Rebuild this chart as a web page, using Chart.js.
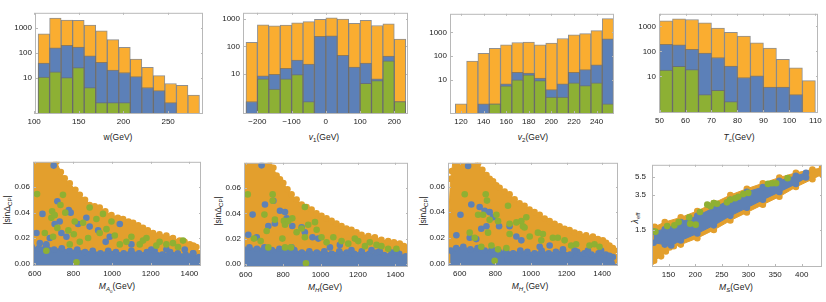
<!DOCTYPE html>
<html>
<head>
<meta charset="utf-8">
<script src="https://cdn.jsdelivr.net/npm/chart.js@4.4.0/dist/chart.umd.min.js"></script>
<style>
body{margin:0;background:#fff;width:826px;height:302px;position:relative;overflow:hidden;font-family:"Liberation Sans",Arial,sans-serif}
canvas{position:absolute}
.t{position:absolute;font-size:8.5px;color:#222;white-space:nowrap;transform:translate(-50%,-50%);line-height:1}
.t.r{transform:translate(-50%,-50%) rotate(-90deg)}
.t sub{font-size:72%;vertical-align:-0.35em;line-height:0}
</style>
</head>
<body>
<div class="t" style="left:118px;top:137px">w(GeV)</div>
<div class="t" style="left:324px;top:137px"><i>v</i><sub>1</sub>(GeV)</div>
<div class="t" style="left:533px;top:137px"><i>v</i><sub>2</sub>(GeV)</div>
<div class="t" style="left:739px;top:137px"><i>T<sub>c</sub></i>(GeV)</div>
<div class="t" style="left:117px;top:287px"><i>M</i><sub><i>A</i><sub>0</sub></sub>(GeV)</div>
<div class="t" style="left:325px;top:287px"><i>M<sub>H</sub></i>(GeV)</div>
<div class="t" style="left:530px;top:287px"><i>M</i><sub><i>H</i><sub>±</sub></sub>(GeV)</div>
<div class="t" style="left:736px;top:287px"><i>M<sub>S</sub></i>(GeV)</div>
<div class="t r" style="left:7px;top:210px">|sinΔ<sub>CP</sub>|</div>
<div class="t r" style="left:218px;top:211px">|sinΔ<sub>CP</sub>|</div>
<div class="t r" style="left:423px;top:211px">|sinΔ<sub>CP</sub>|</div>
<div class="t r" style="left:635px;top:218px"><i>λ</i><sub>eff</sub></div>
<script>
// ---- histograms (bin centres + counts, orange = all, blue / green = subsets)
const wBins = [110.9, 123.8, 136.7, 149.6, 162.5, 175.4, 188.3, 201.2, 214.1, 227.0, 239.9, 252.8, 265.7, 278.6];
const wOrange = [560, 2400, 2000, 1950, 1270, 740, 330, 161, 55, 26, 12, 5.8, 4.9, 2];
const wBlue = [38, 156, 193, 166, 74, 41, 20, 16, 11, 4, 3, 1, null, null];
const wGreen = [10.5, 17, 10, 25, 4, 1, 1, 1, null, null, null, null, null, null];

const v1Bins = [-216.7, -183.3, -150, -116.7, -83.3, -50, -16.7, 16.7, 50, 83.3, 116.7, 150, 183.3, 216.7];
const v1Orange = [143, 610, 560, 600, 720, 800, 970, 1110, 1000, 700, 900, 580, 660, 187];
const v1Blue = [1, 8.5, 9.7, 16, 32, 23, 235, 245, 48, 18, 25, 6.6, 45, 1];
const v1Green = [null, 6.6, 2.8, 6.6, 9.5, 1, null, null, null, null, 4.6, 5.8, 30, 1];

const v2Bins = [120, 130, 140, 150, 160, 170, 180, 190, 200, 210, 220, 230, 240, 250];
const v2Orange = [1, 62, 130, 213, 300, 375, 390, 300, 355, 550, 780, 880, 1170, 3760];
const v2Blue = [null, null, 1, 1, 6.9, 21, 19.5, 12, 3.9, 6.9, 21, 27, 43, 535];
const v2Green = [null, null, null, 1, 5.7, 10, 16.5, 9.4, 1.9, 1.9, 7.5, 5.8, 7.5, 1];

const tcBins = [52.5, 57.5, 62.5, 67.5, 72.5, 77.5, 82.5, 87.5, 92.5, 97.5, 102.5, 107.5];
const tcOrange = [1670, 2000, 1880, 1390, 860, 580, 405, 220, 135, 48, 22, 6.8];
const tcBlue = [190, 185, 120, 85, 57, 26, 9.1, 10.6, 3.8, 3.8, 1.9, null];
const tcGreen = [18, 25.5, 19, 1.9, 2.8, 1, null, null, null, null, null, null];

const countTicks = [10, 100, 1000];
const wTicks = [100, 150, 200, 250];
const v1Ticks = [-200, -100, 0, 100, 200];
const v2Ticks = [120, 140, 160, 180, 200, 220, 240];
const tcTicks = [50, 60, 70, 80, 90, 100, 110];

// ---- scatter panels: [mass, |sin ΔCP|]
const massTicks = [600, 800, 1000, 1200, 1400];
const sinTicks = [0, 0.02, 0.04, 0.06];

const mA0Orange = [[585,0.085],[650,0.085],[700,0.085],[712,0.08],[735,0.072],[755,0.067],[781,0.063],[810,0.058],[833,0.054],[860,0.05],[884,0.046],[910,0.045],[936,0.044],[965,0.041],[997,0.038],[1030,0.036],[1057,0.035],[1085,0.033],[1109,0.032],[1135,0.03],[1160,0.028],[1185,0.026],[1212,0.024],[1245,0.023],[1281,0.022],[1315,0.02],[1350,0.018],[1375,0.017],[1402,0.015],[1420,0.014],[1436,0.013],[1453,0.008],[1458,0.003],[1462,-0.003]];
const mA0Band = [[585,0.013],[620,0.012],[660,0.014],[700,0.011],[740,0.012],[780,0.01],[820,0.011],[860,0.009],[900,0.01],[940,0.008],[980,0.01],[1020,0.009],[1060,0.008],[1100,0.01],[1140,0.008],[1180,0.009],[1220,0.01],[1260,0.007],[1300,0.009],[1340,0.008],[1380,0.007],[1420,0.008],[1450,0.005],[1458,-0.003]];
const mA0Blue = [[698,0.077],[717,0.049],[640,0.039],[776,0.042],[786,0.04],[729,0.033],[703,0.031],[738,0.024],[609,0.024],[764,0.021],[678,0.02],[867,0.036],[884,0.029],[824,0.031],[928,0.026],[967,0.017],[1040,0.031],[1100,0.015],[988,0.021],[1203,0.011],[1281,0.011],[1376,0.011],[1419,0.008],[626,0.016],[660,0.015]];
const mA0Green = [[612,0.0546],[746,0.054],[733,0.046],[690,0.041],[686,0.036],[758,0.04],[703,0.038],[652,0.024],[695,0.021],[717,0.028],[774,0.026],[807,0.033],[802,0.023],[833,0.017],[850,0.032],[884,0.044],[919,0.035],[936,0.024],[971,0.027],[997,0.033],[953,0.039],[1014,0.022],[1040,0.015],[1074,0.017],[1100,0.021],[1143,0.015],[1160,0.018],[1178,0.02],[1229,0.014],[1246,0.017],[1281,0.015],[1315,0.016],[1341,0.013],[1367,0.018],[816,0.001],[781,0.015],[660,0.01],[876,0.02]];

const mHOrange = [[585,0.085],[650,0.085],[700,0.085],[730,0.082],[748,0.076],[765,0.07],[783,0.067],[801,0.064],[823,0.059],[845,0.055],[872,0.051],[899,0.047],[925,0.045],[952,0.043],[978,0.04],[1005,0.038],[1032,0.036],[1059,0.034],[1085,0.032],[1112,0.03],[1138,0.028],[1165,0.027],[1192,0.025],[1219,0.023],[1255,0.022],[1290,0.021],[1325,0.019],[1361,0.018],[1392,0.017],[1423,0.016],[1445,0.014],[1459,0.012],[1466,0.006],[1470,0.001],[1475,-0.004]];
const mHBand = [[585,0.012],[620,0.013],[660,0.012],[700,0.013],[740,0.011],[780,0.012],[820,0.01],[860,0.011],[900,0.009],[940,0.01],[980,0.009],[1020,0.01],[1060,0.008],[1100,0.01],[1140,0.009],[1180,0.008],[1220,0.01],[1260,0.008],[1300,0.009],[1340,0.007],[1380,0.009],[1420,0.008],[1455,0.006],[1466,-0.003]];
const mHBlue = [[685,0.078],[703,0.047],[637,0.039],[748,0.05],[783,0.042],[810,0.041],[819,0.036],[756,0.032],[721,0.03],[659,0.021],[849,0.03],[899,0.029],[845,0.013],[916,0.025],[957,0.021],[988,0.02],[1050,0.013],[1103,0.015],[1165,0.011],[1272,0.011],[1316,0.01],[1405,0.01],[1450,0.005],[614,0.023]];
const mHGreen = [[611,0.055],[744,0.055],[744,0.05],[700,0.039],[756,0.035],[804,0.034],[810,0.031],[828,0.034],[849,0.036],[712,0.026],[644,0.02],[680,0.018],[796,0.02],[810,0.013],[872,0.025],[899,0.028],[916,0.045],[934,0.031],[970,0.033],[979,0.027],[1005,0.021],[1032,0.017],[1068,0.021],[1112,0.018],[1148,0.016],[1183,0.02],[1201,0.018],[1237,0.014],[1263,0.017],[1299,0.015],[1325,0.014],[1361,0.012],[1405,0.012],[842,0.013],[916,0.021],[721,0.013],[922,0.0005]];

const mHcOrange = [[530,-0.004],[540,0.04],[548,0.066],[556,0.072],[565,0.085],[640,0.085],[680,0.085],[703,0.078],[727,0.073],[750,0.069],[768,0.066],[787,0.064],[805,0.061],[824,0.059],[852,0.056],[880,0.054],[908,0.05],[936,0.047],[964,0.045],[992,0.042],[1020,0.04],[1049,0.038],[1077,0.035],[1105,0.033],[1133,0.031],[1161,0.029],[1189,0.027],[1217,0.026],[1245,0.024],[1273,0.023],[1310,0.022],[1348,0.021],[1376,0.019],[1404,0.018],[1422,0.016],[1441,0.014],[1460,0.012],[1469,0.01],[1478,0.005],[1484,-0.004]];
const mHcBand = [[546,-0.003],[550,0.01],[580,0.012],[620,0.013],[660,0.011],[700,0.012],[740,0.01],[780,0.011],[820,0.009],[860,0.01],[900,0.008],[940,0.01],[980,0.009],[1020,0.008],[1060,0.01],[1100,0.008],[1140,0.009],[1180,0.01],[1220,0.007],[1260,0.009],[1300,0.008],[1340,0.007],[1380,0.008],[1420,0.007],[1460,0.005],[1476,-0.003]];
const mHcBlue = [[647,0.076],[665,0.046],[604,0.038],[712,0.044],[740,0.041],[768,0.04],[787,0.036],[750,0.029],[721,0.027],[656,0.02],[821,0.029],[880,0.029],[918,0.021],[946,0.018],[693,0.019],[1049,0.013],[1105,0.014],[1180,0.011],[1245,0.01],[1320,0.01],[1394,0.01],[1441,0.006],[581,0.022],[871,0.003]];
const mHcGreen = [[628,0.054],[746,0.054],[753,0.049],[703,0.038],[731,0.038],[768,0.034],[806,0.038],[815,0.033],[871,0.045],[880,0.031],[918,0.032],[946,0.033],[955,0.029],[964,0.028],[974,0.036],[993,0.021],[1039,0.024],[1067,0.023],[1058,0.018],[1123,0.02],[1151,0.02],[1189,0.018],[1226,0.014],[1254,0.015],[1329,0.014],[1357,0.015],[1385,0.013],[656,0.024],[684,0.02],[721,0.013],[759,0.024],[778,0.014],[815,0.011],[862,0.012],[880,0.023],[796,0.002]];

// ---- M_S vs lambda_eff (log y)
const msTicks = [150, 200, 250, 300, 350, 400];
const lamTicks = [1.5, 3.5, 5.5];
const msOrangeUp = [[118,1.58],[124,1.61],[143,1.81],[173,2.03],[204,2.38],[235,2.89],[266,3.52],[297,4.11],[327,4.7],[358,5.41],[389,6.08],[420,6.58],[438,6.84],[445,6.9]];
const msOrangeLow = [[118,0.68],[123,0.7],[136,0.78],[145,0.88],[152,0.97],[160,1.0],[173,1.04],[204,1.22],[235,1.49],[266,1.88],[297,2.29],[327,2.78],[358,3.38],[389,4.28],[420,5.2],[438,5.85],[445,6.0]];
const msBlueUp = [[122,1.43],[143,1.52],[173,1.81],[204,2.11],[235,2.57],[266,3.13],[297,3.8],[327,4.28],[358,5.0],[389,5.63],[408,6.08]];
const msBlueLow = [[122,1.09],[143,1.04],[155,1.02],[173,1.15],[204,1.37],[235,1.67],[266,2.11],[297,2.57],[327,3.13],[358,3.8],[389,4.63],[408,5.41]];
const msGreen = [[125.4,1.43],[147.5,1.64],[161,1.67],[169,1.81],[188.8,2.03],[190.6,1.74],[201,1.7],[209,2.32],[222.7,2.78],[228.8,2.67],[235,2.89],[241,2.84],[259.6,2.94],[265.8,3.13],[275,3.25],[281,3.38],[290.4,3.6],[299.6,3.71],[336.6,4.63],[344.6,4.7],[352,4.7],[373.5,5.33]];

const FONT = '"Liberation Sans", Arial, sans-serif';
const ORANGE_H = '#FAAD30', BLUE_H = '#5C80B8', GREEN_H = '#8DB034';
const ORANGE_S = '#E39F2D', BLUE_S = '#5E81B5', GREEN_S = '#8FB032';

Chart.defaults.font.family = FONT;
Chart.defaults.font.size = 8;
Chart.defaults.color = '#222';

const frame = {
  id: 'frame',
  afterDatasetsDraw(chart) {
    const {ctx, chartArea: a, scales} = chart;
    ctx.save();
    ctx.strokeStyle = '#b8b8b8';
    ctx.lineWidth = 1;
    ctx.strokeRect(a.left + 0.5, a.top + 0.5, a.right - a.left - 1, a.bottom - a.top - 1);
    ctx.beginPath();
    scales.x.ticks.forEach(t => {
      const px = Math.round(scales.x.getPixelForValue(t.value)) + 0.5;
      ctx.moveTo(px, a.bottom); ctx.lineTo(px, a.bottom - 3);
      ctx.moveTo(px, a.top); ctx.lineTo(px, a.top + 2);
    });
    scales.y.ticks.forEach(t => {
      const py = Math.round(scales.y.getPixelForValue(t.value)) + 0.5;
      ctx.moveTo(a.left, py); ctx.lineTo(a.left + 3, py);
      ctx.moveTo(a.right, py); ctx.lineTo(a.right - 2, py);
    });
    ctx.stroke();
    ctx.restore();
  }
};

function axis(type, min, max, ticks, fmt, pos, size, pad) {
  return {
    type: type, min: min, max: max, position: pos, offset: false,
    grid: {display: false, drawTicks: false, offset: false},
    border: {display: false},
    afterBuildTicks: s => { s.ticks = ticks.map(v => ({value: v})); },
    afterFit: s => { if (pos === 'left') s.width = size; else s.height = size; },
    ticks: {padding: pad || 3, maxRotation: 0, autoSkip: false, callback: fmt}
  };
}

const fmtInt = v => (v < 0 ? '\u2212' + Math.abs(v) : String(v));
const fmt2 = v => v.toFixed(2);
const fmt1 = v => v.toFixed(1);

function place(f, type, datasets, xs, ys) {
  const left = f.L - 34, top = f.T - 6;
  const right = Math.min(826, f.R + 12), bottom = f.B + 16;
  const c = document.createElement('canvas');
  c.width = right - left; c.height = bottom - top;
  c.style.left = left + 'px'; c.style.top = top + 'px';
  document.body.appendChild(c);
  new Chart(c, {
    type: type,
    data: {datasets: datasets},
    options: {
      responsive: false, animation: false, devicePixelRatio: 1, events: [],
      layout: {padding: {top: 6, right: right - f.R, left: 0, bottom: 0}},
      plugins: {legend: {display: false}, tooltip: {enabled: false}},
      scales: {x: xs, y: ys}
    },
    plugins: [frame]
  });
}

function bars(bins, vals, color) {
  return {
    type: 'bar', data: bins.map((x, i) => ({x: x, y: vals[i]})),
    backgroundColor: color, borderColor: 'rgba(105,105,105,0.75)', borderWidth: 1,
    grouped: false, barPercentage: 1, categoryPercentage: 1
  };
}

function histo(f, bins, orange, blue, green, xmin, xmax, xt, ymin, ymax) {
  place(f, 'bar', [bars(bins, green, GREEN_H), bars(bins, blue, BLUE_H), bars(bins, orange, ORANGE_H)],
    axis('linear', xmin, xmax, xt, fmtInt, 'bottom', 16),
    axis('logarithmic', ymin, ymax, countTicks, fmtInt, 'left', 34));
}

const pt = arr => arr.map(p => ({x: p[0], y: p[1]}));
function dots(arr, color) {
  return {type: 'scatter', data: pt(arr), showLine: false, pointRadius: 3.3, pointBackgroundColor: color, pointBorderColor: color, pointBorderWidth: 0};
}
function area(arr, color, fill) {
  return {type: 'line', data: pt(arr), fill: fill, backgroundColor: color, borderColor: color, borderWidth: 1, tension: 0,
    pointRadius: 3.3, pointBackgroundColor: color, pointBorderColor: color, pointBorderWidth: 0};
}

function sinPanel(f, orange, band, blue, green, xmin, xmax, ymin, ymax) {
  place(f, 'scatter', [dots(green, GREEN_S), dots(blue, BLUE_S), area(band, BLUE_S, 'start'), area(orange, ORANGE_S, 'start')],
    axis('linear', xmin, xmax, massTicks, v => String(v), 'bottom', 16),
    axis('linear', ymin, ymax, sinTicks, fmt2, 'left', 34));
}

histo({L: 35, T: 11, R: 203, B: 114}, wBins, wOrange, wBlue, wGreen, 101, 289, wTicks, 0.35, 3900);
histo({L: 243, T: 11, R: 408, B: 114}, v1Bins, v1Orange, v1Blue, v1Green, -242, 240, v1Ticks, 0.35, 1680);
histo({L: 450, T: 12, R: 614, B: 114}, v2Bins, v2Orange, v2Blue, v2Green, 110.3, 255.4, v2Ticks, 0.37, 6000);
histo({L: 659, T: 12, R: 818, B: 113}, tcBins, tcOrange, tcBlue, tcGreen, 49.8, 111, tcTicks, 0.35, 3160);

sinPanel({L: 33, T: 160, R: 201, B: 266}, mA0Orange, mA0Band, mA0Blue, mA0Green, 591, 1460, -0.002, 0.08);
sinPanel({L: 244, T: 161, R: 408, B: 267}, mHOrange, mHBand, mHBlue, mHGreen, 591, 1467, -0.0025, 0.08);
sinPanel({L: 448, T: 161, R: 618, B: 266}, mHcOrange, mHcBand, mHcBlue, mHcGreen, 534, 1489, -0.002, 0.0785);

place({L: 652, T: 160, R: 825, B: 267}, 'scatter', [
    dots(msGreen, GREEN_S),
    area(msBlueUp, BLUE_S, '+1'), area(msBlueLow, BLUE_S, false),
    area(msOrangeUp, ORANGE_S, '+1'), area(msOrangeLow, ORANGE_S, false)
  ],
  axis('linear', 119, 438, msTicks, v => String(v), 'bottom', 16),
  axis('logarithmic', 0.61, 7.4, lamTicks, fmt1, 'left', 34, 6));
</script>
</body>
</html>
